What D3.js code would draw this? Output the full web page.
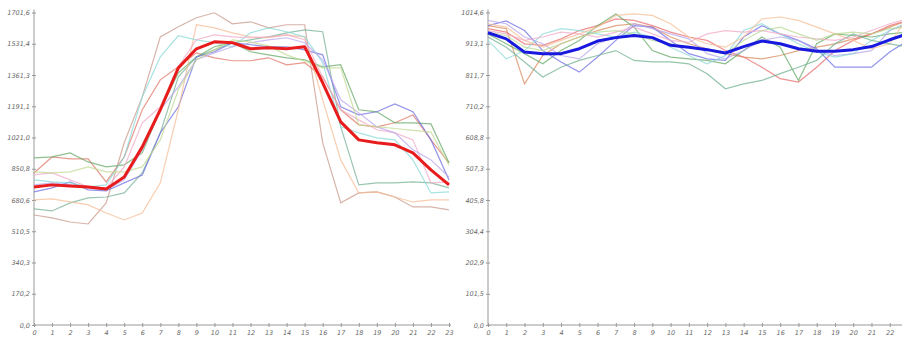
<!DOCTYPE html>
<html>
<head>
<meta charset="utf-8">
<script src="https://cdn.jsdelivr.net/npm/d3@7"></script>
<style>
  body { margin: 0; background: #fff; }
  svg { display: block; }
  .axis text { font-family: "DejaVu Sans", sans-serif; font-style: italic; font-size: 6.5px; fill: #666; }
  .axis path, .axis line { stroke: #999; }
</style>
</head>
<body>
<div id="chart"></div>
<script>
// hours on the x axis
const hours = d3.range(24);

// left panel: y ticks and series
const leftTicks = [0, 170.16, 340.32, 510.48, 680.64, 850.8, 1020.96, 1191.12, 1361.28, 1531.44, 1701.6];
const leftMean = [752, 763, 757, 752, 741, 806, 970, 1172, 1400, 1504, 1542, 1537, 1504, 1509, 1504, 1515, 1319, 1106, 1008, 992, 981, 937, 845, 763];
const leftSeries = [
  { color: '#c99a8c', values: [599, 583, 561, 550, 665, 992, 1242, 1569, 1624, 1673, 1700, 1640, 1651, 1618, 1635, 1635, 992, 665, 719, 725, 697, 643, 643, 627] },
  { color: '#e07868', values: [828, 915, 905, 905, 779, 915, 1172, 1335, 1406, 1482, 1455, 1439, 1439, 1455, 1417, 1428, 1351, 1172, 1090, 1079, 1101, 1144, 1008, 883] },
  { color: '#6aaa6a', values: [910, 915, 937, 888, 861, 872, 937, 1172, 1373, 1460, 1515, 1537, 1488, 1471, 1455, 1444, 1406, 1417, 1172, 1161, 1101, 1101, 1095, 883] },
  { color: '#78b296', values: [632, 621, 665, 692, 697, 719, 828, 1046, 1351, 1460, 1498, 1537, 1553, 1569, 1591, 1607, 1597, 1079, 763, 774, 774, 779, 774, 747] },
  { color: '#7070e0', values: [725, 747, 779, 736, 730, 774, 817, 1046, 1188, 1460, 1488, 1537, 1526, 1515, 1515, 1498, 1471, 1188, 1144, 1161, 1204, 1161, 1008, 790] },
  { color: '#f5bc96', values: [681, 687, 670, 654, 610, 572, 610, 774, 1172, 1635, 1618, 1591, 1569, 1564, 1580, 1569, 1226, 899, 719, 725, 697, 670, 681, 681] },
  { color: '#8adada', values: [790, 779, 774, 752, 763, 915, 1242, 1460, 1575, 1553, 1537, 1515, 1591, 1618, 1597, 1569, 1428, 1079, 1046, 1019, 1008, 899, 719, 725] },
  { color: '#f2aac8', values: [817, 828, 790, 752, 747, 861, 1101, 1188, 1406, 1553, 1580, 1569, 1564, 1569, 1580, 1553, 1351, 1172, 1117, 1063, 1046, 1008, 774, 779] },
  { color: '#baa6ee', values: [763, 774, 763, 747, 736, 790, 954, 1172, 1297, 1444, 1482, 1515, 1537, 1553, 1564, 1537, 1444, 1226, 1155, 1079, 1046, 954, 899, 806] },
  { color: '#c2da92', values: [834, 828, 834, 861, 834, 834, 861, 1008, 1281, 1444, 1498, 1553, 1540, 1520, 1471, 1436, 1400, 1400, 1090, 1080, 1070, 1060, 1050, 870] }
];

// right panel: y ticks and series
const rightTicks = [0, 101.46, 202.92, 304.38, 405.84, 507.3, 608.76, 710.22, 811.68, 913.14, 1014.6];
const rightMean = [949, 929, 886, 881, 881, 897, 922, 933, 940, 933, 908, 902, 894, 883, 904, 922, 913, 897, 889, 889, 894, 904, 926, 946];
const rightSeries = [
  { color: '#d98a5e', values: [972, 962, 783, 875, 913, 935, 956, 972, 978, 967, 935, 913, 897, 881, 870, 864, 875, 891, 902, 913, 929, 945, 967, 989] },
  { color: '#e86e6e', values: [962, 951, 913, 908, 929, 956, 972, 994, 989, 972, 951, 935, 924, 891, 870, 837, 800, 789, 837, 891, 924, 945, 972, 989] },
  { color: '#66aa66', values: [945, 913, 881, 848, 891, 924, 972, 1010, 967, 891, 870, 864, 859, 848, 891, 935, 902, 794, 913, 945, 940, 935, 945, 951] },
  { color: '#6e6ee6', values: [972, 987, 956, 891, 854, 821, 870, 924, 972, 967, 924, 881, 864, 859, 935, 972, 945, 924, 897, 837, 837, 837, 886, 924] },
  { color: '#b6a6ea', values: [989, 978, 935, 913, 875, 864, 913, 935, 978, 962, 945, 929, 881, 864, 891, 924, 935, 924, 891, 875, 881, 891, 956, 978] },
  { color: '#8cd8d8', values: [924, 864, 891, 945, 962, 956, 945, 935, 951, 935, 902, 875, 848, 875, 956, 978, 945, 913, 886, 870, 881, 924, 956, 983] },
  { color: '#f5bf94', values: [978, 967, 924, 902, 924, 945, 967, 1005, 1010, 1005, 978, 935, 913, 902, 935, 994, 1000, 989, 967, 945, 924, 897, 913, 1000] },
  { color: '#72b292', values: [935, 902, 854, 805, 837, 859, 875, 891, 859, 854, 854, 848, 816, 767, 783, 794, 816, 837, 859, 913, 945, 924, 913, 902] },
  { color: '#f2aac8', values: [956, 945, 924, 935, 951, 945, 935, 951, 967, 945, 924, 918, 945, 956, 951, 956, 945, 935, 929, 924, 935, 956, 978, 994] },
  { color: '#b8da94', values: [951, 940, 902, 891, 913, 935, 951, 956, 945, 924, 913, 902, 891, 881, 924, 956, 967, 945, 924, 945, 951, 945, 962, 967] }
];

const W = 902, H = 341;
const plotTop = 12.5, plotBottom = 325;

const svg = d3.select('#chart').append('svg').attr('width', W).attr('height', H);

const fmt = v => d3.format('.1f')(v).replace('.', ',');

function drawPanel(x0, x1, ticks, series, mean, meanColor) {
  const xScale = d3.scaleLinear().domain([0, 23]).range([x0, x1]);
  const yScale = d3.scaleLinear().domain([0, ticks[ticks.length - 1]]).range([plotBottom, plotTop]);
  const g = svg.append('g');

  const yAxis = d3.axisLeft(yScale).tickValues(ticks).tickFormat(fmt).tickSize(2).tickPadding(2);
  const xAxis = d3.axisBottom(xScale).tickValues(hours).tickFormat(d3.format('d')).tickSize(2).tickPadding(3);

  const gy = g.append('g').attr('class', 'axis').attr('transform', `translate(${x0},0)`).call(yAxis);
  gy.select('.domain').attr('d', `M0,${plotTop - 3}V${plotBottom}`);
  gy.selectAll('.tick line').attr('x1', 2).attr('x2', -2);

  const gx = g.append('g').attr('class', 'axis').attr('transform', `translate(0,${plotBottom})`).call(xAxis);
  gx.select('.domain').attr('d', `M${x0},0H${x1 + 2}`);
  gx.selectAll('.tick line').attr('y1', -2).attr('y2', 2);

  const line = d3.line().x((d, i) => xScale(i)).y(d => yScale(d));

  g.selectAll('path.thin').data(series).enter().append('path')
    .attr('class', 'thin')
    .attr('d', d => line(d.values))
    .attr('fill', 'none')
    .attr('stroke', d => d.color)
    .attr('stroke-width', 1.2)
    .attr('stroke-opacity', 0.75);

  g.append('path')
    .attr('d', line(mean))
    .attr('fill', 'none')
    .attr('stroke', meanColor)
    .attr('stroke-width', 3)
    .attr('stroke-linejoin', 'round');
}

drawPanel(34, 449, leftTicks, leftSeries, leftMean, '#e81c1c');
drawPanel(488, 908, rightTicks, rightSeries, rightMean, '#1818de');
</script>
</body>
</html>
